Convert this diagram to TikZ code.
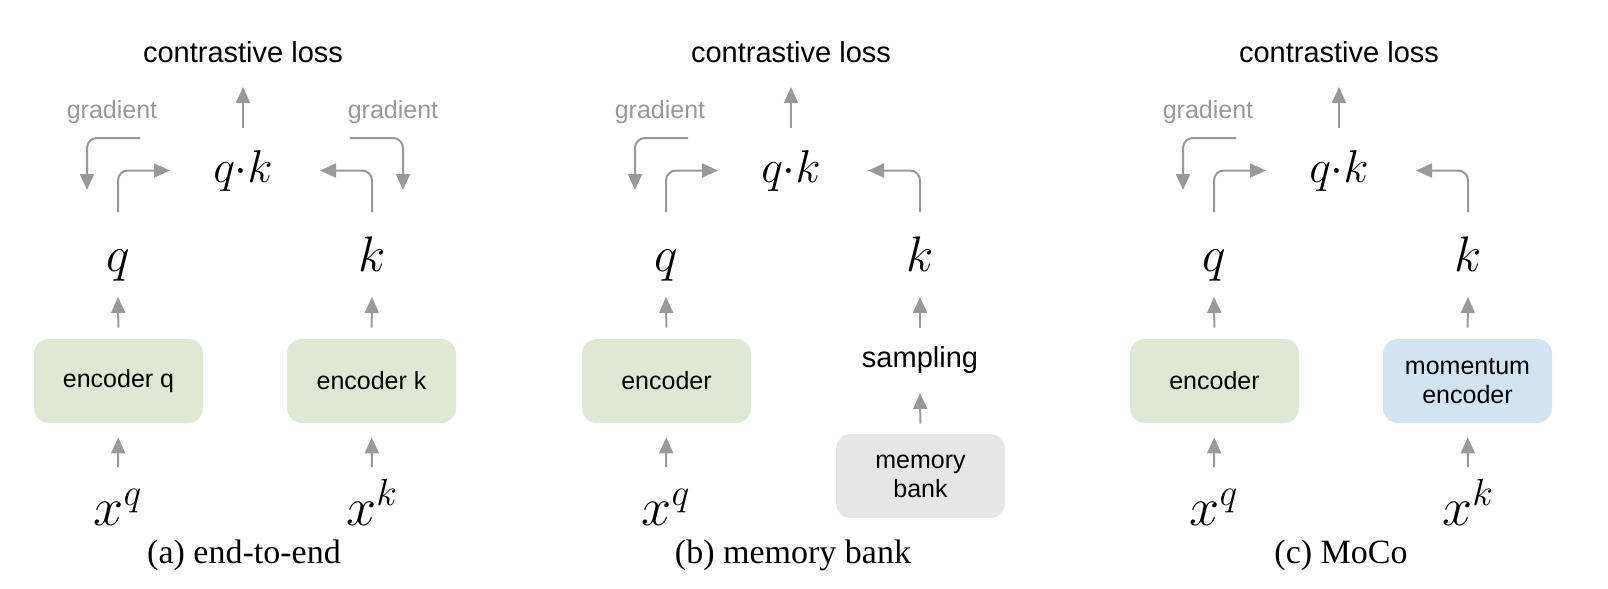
\RequirePackage{fix-cm}
\documentclass[tikz,border=0pt]{standalone}
\usepackage{amsmath}
\usepackage{fontspec}
\setsansfont{Liberation Sans}
\newfontfamily\capfont{Liberation Serif}
\usepackage{tikz}
\usetikzlibrary{arrows.meta,positioning,calc}
\definecolor{encgreen}{HTML}{DDE9D4}
\definecolor{encblue}{HTML}{D3E3EF}
\definecolor{bankgray}{HTML}{E6E6E6}
\definecolor{arrgray}{HTML}{999999}
\tikzset{
  enc/.style={rounded corners=7.5pt, fill=encgreen, draw=none, align=center,
              minimum width=84.5pt, minimum height=42pt, inner sep=0pt,
              font=\sffamily\fontsize{12.5}{14.5}\selectfont},
  menc/.style={enc, fill=encblue},
  bank/.style={enc, fill=bankgray},
  losslbl/.style={inner sep=0pt, anchor=base, font=\sffamily\fontsize{14.5}{17}\selectfont},
  gradlbl/.style={inner sep=0pt, anchor=base, text=arrgray,
                  font=\sffamily\fontsize{12.5}{15}\selectfont},
  dotp/.style={inner sep=0pt, anchor=base, font=\fontsize{23}{27}\selectfont},
  vec/.style={inner sep=0pt, anchor=base, font=\fontsize{25}{30}\selectfont},
  inp/.style={inner sep=0pt, anchor=base, font=\fontsize{27}{32}\selectfont},
  caplbl/.style={inner sep=0pt, anchor=base, font=\capfont\fontsize{17}{20}\selectfont},
  arr/.style={-{Triangle[length=8pt,width=7pt]}, line width=1pt, draw=arrgray},
  barr/.style={arr, rounded corners=5pt},
}
\begin{document}
\begin{tikzpicture}[x=0.5pt, y=-0.5pt]
  \useasboundingbox (0,0) rectangle (1608,589);

  % (a) end-to-end
  \node[losslbl] (lossA) at (243,62) {contrastive loss};
  \node[dotp] (qkA) at (243,182) {$q{\cdot}k$};
  \node[gradlbl] (gqA) at (112,118) {gradient};
  \node[gradlbl] (gkA) at (393,118) {gradient};
  \node[vec] (qA) at (118,271) {$q$};
  \node[vec] (kA) at (372,271) {$k$};
  \node[enc] (encqA) at (118.5,381) {encoder q};
  \node[enc] (enckA) at (371.5,381) {encoder k};
  \node[inp] (xqA) at (118,525) {$x^q$};
  \node[inp] (xkA) at (372,525) {$x^k$};
  \node[caplbl] (capA) at (244,563) {(a) end-to-end};
  \coordinate (gqA1) at (140,138);
  \coordinate (gqA2) at (87,190);
  \coordinate (gkA1) at (350,138);
  \coordinate (gkA2) at (403,190);
  \draw[arr] ([yshift=27pt]qkA.base) -- ([yshift=-12.5pt]lossA.base);
  \draw[barr] ([yshift=29.5pt]qA.base) |- ([xshift=-36.5pt]qkA.center);
  \draw[barr] ([yshift=29.5pt]kA.base) |- ([xshift=38.5pt]qkA.center);
  \draw[barr] (gqA1) -| (gqA2);
  \draw[barr] (gkA1) -| (gkA2);
  \draw[arr, shorten <=5.5pt] (encqA.north) -- ([yshift=-13pt]qA.base);
  \draw[arr, shorten <=5.5pt] (enckA.north) -- ([yshift=-13pt]kA.base);
  \draw[arr, shorten >=7pt] ([yshift=29pt]xqA.base) -- (encqA.south);
  \draw[arr, shorten >=7pt] ([yshift=29pt]xkA.base) -- (enckA.south);

  % (b) memory bank
  \begin{scope}[xshift=274pt]
    \node[losslbl] (lossB) at (243,62) {contrastive loss};
    \node[dotp] (qkB) at (243,182) {$q{\cdot}k$};
    \node[gradlbl] (gqB) at (112,118) {gradient};
    \node[vec] (qB) at (118,271) {$q$};
    \node[vec] (kB) at (372,271) {$k$};
    \node[enc] (encB) at (118.5,381) {encoder};
    \node[losslbl] (sampB) at (372,367) {sampling};
    \node[bank] (bankB) at (372.5,476) {memory\\bank};
    \node[inp] (xqB) at (118,525) {$x^q$};
    \node[caplbl] (capB) at (245,563) {(b) memory bank};
    \coordinate (gqB1) at (140,138);
    \coordinate (gqB2) at (87,190);
    \draw[arr] ([yshift=27pt]qkB.base) -- ([yshift=-12.5pt]lossB.base);
    \draw[barr] ([yshift=29.5pt]qB.base) |- ([xshift=-36.5pt]qkB.center);
    \draw[barr] ([yshift=29.5pt]kB.base) |- ([xshift=38.5pt]qkB.center);
    \draw[barr] (gqB1) -| (gqB2);
    \draw[arr, shorten <=5.5pt] (encB.north) -- ([yshift=-13pt]qB.base);
    \draw[arr] ([yshift=19.5pt]sampB.base) -- ([yshift=-13pt]kB.base);
    \draw[arr, shorten >=7pt] ([yshift=29pt]xqB.base) -- (encB.south);
    \draw[arr, shorten <=5pt] (bankB.north) -- ([yshift=-13pt]sampB.base);
  \end{scope}

  % (c) MoCo
  \begin{scope}[xshift=548pt]
    \node[losslbl] (lossC) at (243,62) {contrastive loss};
    \node[dotp] (qkC) at (243,182) {$q{\cdot}k$};
    \node[gradlbl] (gqC) at (112,118) {gradient};
    \node[vec] (qC) at (118,271) {$q$};
    \node[vec] (kC) at (372,271) {$k$};
    \node[enc] (encC) at (118.5,381) {encoder};
    \node[menc] (mencC) at (371.5,381) {momentum\\encoder};
    \node[inp] (xqC) at (118,525) {$x^q$};
    \node[inp] (xkC) at (372,525) {$x^k$};
    \node[caplbl] (capC) at (245,563) {(c) MoCo};
    \coordinate (gqC1) at (140,138);
    \coordinate (gqC2) at (87,190);
    \draw[arr] ([yshift=27pt]qkC.base) -- ([yshift=-12.5pt]lossC.base);
    \draw[barr] ([yshift=29.5pt]qC.base) |- ([xshift=-36.5pt]qkC.center);
    \draw[barr] ([yshift=29.5pt]kC.base) |- ([xshift=38.5pt]qkC.center);
    \draw[barr] (gqC1) -| (gqC2);
    \draw[arr, shorten <=5.5pt] (encC.north) -- ([yshift=-13pt]qC.base);
    \draw[arr, shorten <=5.5pt] (mencC.north) -- ([yshift=-13pt]kC.base);
    \draw[arr, shorten >=7pt] ([yshift=29pt]xqC.base) -- (encC.south);
    \draw[arr, shorten >=7pt] ([yshift=29pt]xkC.base) -- (mencC.south);
  \end{scope}
\end{tikzpicture}
\end{document}
